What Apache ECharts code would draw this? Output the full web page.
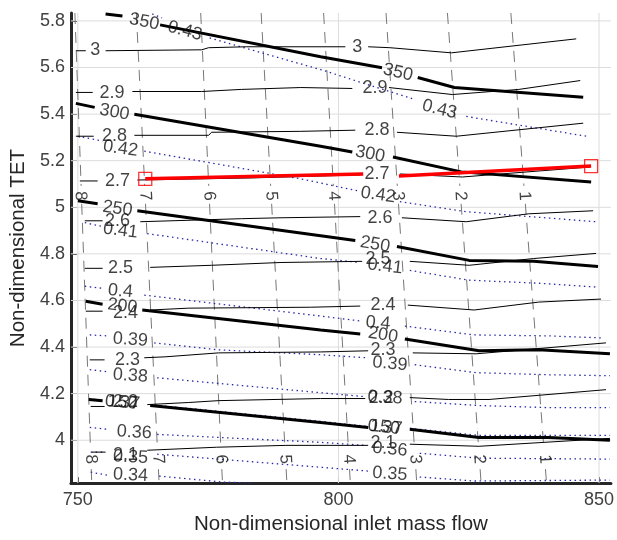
<!DOCTYPE html>
<html>
<head>
<meta charset="utf-8">
<script src="https://cdn.jsdelivr.net/npm/echarts@6/dist/echarts.min.js"></script>
<style>html,body{margin:0;padding:0;background:#fff}#c{width:617px;height:540px}</style>
</head>
<body>
<div id="c"></div>
<script>
const FONT = "'Liberation Sans', Arial, Helvetica, sans-serif";
const X_MIN = 748.67, X_MAX = 852.28, Y_MIN = 3.816, Y_MAX = 5.834;
const xTicks = [750, 800, 850];
const yTicks = [4, 4.2, 4.4, 4.6, 4.8, 5, 5.2, 5.4, 5.6, 5.8];

// thin contours (segments)
const thin3 = [[[749.62,5.672],[751.52,5.672]],[[755.32,5.672],[773.76,5.676],[775.09,5.685],[782.32,5.689],[801.33,5.689]],[[805.70,5.689],[809.88,5.685],[821.67,5.663],[845.62,5.723]]];
const thin29 = [[[749.62,5.493],[752.85,5.493]],[[760.46,5.497],[773.76,5.497],[781.37,5.506],[792.77,5.514],[802.66,5.510]],[[809.69,5.514],[821.86,5.484],[834.60,5.506],[846.39,5.544]]];
const thin28 = [[[749.62,5.305],[753.04,5.305]],[[760.84,5.309],[775.09,5.309],[775.66,5.322],[792.77,5.326],[803.23,5.331]],[[811.22,5.322],[822.62,5.305],[846.96,5.361]]];
const thin27 = [[[750.38,5.113],[753.80,5.113]],[[761.41,5.117],[783.27,5.126],[804.18,5.139]],[[811.79,5.143],[823.76,5.130],[848.29,5.173]]];
const thin26 = [[[751.33,4.942],[754.75,4.942]],[[761.98,4.938],[781.37,4.951],[788.97,4.955],[804.18,4.960]],[[812.17,4.955],[824.52,4.938],[836.50,4.972],[848.86,4.985]]];
const thin25 = [[[751.33,4.738],[754.75,4.738]],[[763.88,4.742],[775.66,4.751],[788.97,4.763],[804.56,4.768]],[[813.69,4.768],[825.09,4.751],[837.45,4.780],[849.43,4.802]]];
const thin24 = [[[751.52,4.554],[754.75,4.554]],[[763.88,4.559],[771.29,4.567],[794.68,4.571],[804.18,4.576]],[[813.31,4.580],[826.04,4.559],[838.40,4.593],[850.38,4.606]]];
const thin23 = [[[752.28,4.345],[755.13,4.345]],[[762.74,4.354],[766.73,4.358],[777.00,4.375],[796.58,4.379],[805.70,4.384]],[[814.26,4.375],[826.42,4.371],[851.33,4.418]]];
const thin22 = [[[752.47,4.145],[755.13,4.145]],[[763.31,4.153],[771.29,4.162],[777.00,4.170],[796.58,4.179],[805.13,4.179]],[[813.69,4.183],[821.10,4.175],[828.89,4.175],[851.33,4.217]]];
const thin21 = [[[752.66,3.949],[755.32,3.949]],[[763.31,3.957],[776.62,3.970],[789.92,3.978],[805.70,3.978]],[[813.69,3.983],[826.99,3.974],[852.09,4.008]]];
const thinLabels = [
  ['3',753.33,5.676,0],['3',803.61,5.687,0],
  ['2.9',756.56,5.491,0],['2.9',807.03,5.512,0],
  ['2.8',757.03,5.305,0],['2.8',807.41,5.331,0],
  ['2.7',757.60,5.113,0],['2.7',807.41,5.143,0],
  ['2.6',757.60,4.942,0],['2.6',807.98,4.955,0],
  ['2.5',758.17,4.738,0],['2.5',807.60,4.780,0],
  ['2.4',759.13,4.546,0],['2.4',808.55,4.580,0],
  ['2.3',759.51,4.345,0],['2.3',808.55,4.388,0],
  ['2.2',759.13,4.162,0],['2.2',808.17,4.183,0],
  ['2.1',759.13,3.936,0],['2.1',808.55,3.987,0]
];

// thick contours
const thick350 = [[[755.32,5.830],[758.55,5.821]],[[765.78,5.783],[796.58,5.646],[808.36,5.599]],[[815.21,5.557],[822.24,5.514],[846.96,5.472]]];
const thick300 = [[[749.62,5.446],[753.23,5.429]],[[760.84,5.399],[796.58,5.262],[802.66,5.237]],[[810.46,5.216],[823.57,5.152],[848.48,5.109]]];
const thick250 = [[[750.00,5.028],[753.80,5.015]],[[761.41,4.985],[796.58,4.878],[803.23,4.857]],[[811.22,4.832],[825.09,4.772],[837.45,4.768],[849.81,4.746]]];
const thick200 = [[[751.52,4.597],[754.75,4.584]],[[762.36,4.559],[796.58,4.473],[804.18,4.456]],[[812.74,4.435],[826.99,4.384],[838.40,4.388],[852.09,4.371]]];
const thick150 = [[[752.09,4.175],[754.75,4.170]],[[763.88,4.149],[796.58,4.076],[805.70,4.055]],[[813.69,4.047],[826.99,4.012],[840.30,4.012],[852.09,4.000]]];
const thickLabels = [
  ['350',762.74,5.796,-11],['350',811.41,5.578,-13],
  ['300',757.03,5.408,-10],['300',806.08,5.228,-11],
  ['250',757.60,4.994,-8],['250',807.03,4.840,-10],
  ['200',758.55,4.576,-7],['200',808.55,4.452,-9],
  ['150',758.55,4.162,-5],['150',808.94,4.055,-6]
];

// dotted contours
const dot43 = [[[764.26,5.830],[766.16,5.813]],[[775.28,5.727],[796.58,5.591],[814.64,5.463]],[[824.52,5.390],[847.53,5.305]]];
const dot42 = [[[750.00,5.305],[754.75,5.284]],[[762.74,5.241],[792.77,5.122],[803.61,5.071]],[[811.79,5.024],[824.52,4.981],[849.43,4.938]]];
const dot41 = [[[751.33,4.934],[754.75,4.917]],[[763.31,4.887],[796.58,4.780],[804.18,4.763]],[[813.69,4.729],[825.09,4.687],[838.40,4.674],[849.81,4.657]]];
const dot40 = [[[751.33,4.661],[754.75,4.652]],[[762.74,4.623],[796.58,4.533],[804.18,4.512]],[[812.74,4.490],[826.04,4.452],[840.30,4.448],[850.76,4.439]]];
const dot39 = [[[752.28,4.452],[755.70,4.448]],[[764.64,4.418],[777.00,4.388],[796.58,4.367],[805.32,4.354]],[[814.64,4.324],[826.42,4.290],[840.30,4.281],[852.09,4.277]]];
const dot38 = [[[752.28,4.303],[755.70,4.294]],[[765.21,4.268],[796.58,4.204],[805.13,4.187]],[[814.64,4.166],[826.99,4.149],[840.30,4.140],[852.09,4.140]]];
const dot37 = [[[752.09,4.179],[754.75,4.170]],[[763.88,4.153],[796.58,4.081],[805.70,4.059]],[[813.69,4.051],[826.99,4.021],[852.09,4.021]]];
const dot36 = [[[752.28,4.055],[755.70,4.047]],[[765.21,4.025],[796.58,3.991],[805.13,3.978]],[[815.59,3.944],[826.99,3.923],[852.09,3.919]]];
const dot35 = [[[752.47,3.949],[755.32,3.949]],[[765.21,3.940],[796.58,3.884],[806.08,3.867]],[[815.59,3.842],[826.04,3.825],[852.09,3.829]]];
const dot34 = [[[752.47,3.863],[755.70,3.850]],[[765.59,3.846],[777.57,3.821],[783.27,3.816]]];
const dotLabels = [
  ['0.43',770.53,5.757,-15],['0.43',819.39,5.420,-14],
  ['0.42',758.17,5.252,-8],['0.42',807.60,5.053,-8],
  ['0.41',758.17,4.900,-7],['0.41',808.94,4.746,-7],
  ['0.4',758.17,4.640,-5],['0.4',807.60,4.503,-5],
  ['0.39',760.08,4.431,-4],['0.39',809.88,4.328,-5],
  ['0.38',760.08,4.277,-4],['0.38',808.94,4.183,-3],
  ['0.37',758.55,4.162,-5],['0.37',808.94,4.055,-5],
  ['0.36',760.84,4.034,-3],['0.36',809.88,3.961,-5],
  ['0.35',760.08,3.927,-3],['0.35',809.88,3.855,-4],
  ['0.34',760.08,3.850,-3]
];

// dashed near-vertical contours
const dash8 = [[[749.43,5.834],[750.63,5.092]],[[750.74,5.015],[752.43,3.961]],[[752.57,3.876],[752.66,3.816]]];
const dash7 = [[[761.22,5.834],[762.83,5.092]],[[762.98,5.015],[765.27,3.961]],[[765.46,3.876],[765.59,3.816]]];
const dash6 = [[[773.57,5.834],[775.11,5.092]],[[775.27,5.015],[777.45,3.961]],[[777.62,3.876],[777.76,3.816]]];
const dash5 = [[[785.17,5.834],[786.99,5.092]],[[787.18,5.015],[789.75,3.961]],[[789.96,3.876],[790.11,3.816]]];
const dash4 = [[[797.15,5.834],[799.03,5.092]],[[799.24,5.015],[801.92,3.961]],[[802.13,3.876],[802.28,3.816]]];
const dash3 = [[[809.13,5.834],[811.29,5.092]],[[811.52,5.015],[814.60,3.961]],[[814.85,3.876],[815.02,3.816]]];
const dash2 = [[[820.91,5.834],[823.29,5.092]],[[823.54,5.015],[826.92,3.961]],[[827.18,3.876],[827.37,3.816]]];
const dash1 = [[[833.08,5.834],[835.59,5.092]],[[835.86,5.015],[839.43,3.961]],[[839.72,3.876],[839.92,3.816]]];
const dashLabels = [
  ['8',750.5,5.049,-87],['7',762.9,5.049,-87],['6',775.2,5.049,-87],['5',787.1,5.049,-87],
  ['4',799.1,5.049,-87],['3',811.4,5.049,-87],['2',823.4,5.049,-87],['1',835.7,5.049,-87],
  ['8',752.5,3.919,-87],['7',765.4,3.919,-87],['6',777.5,3.919,-87],['5',789.8,3.919,-87],
  ['4',802.0,3.919,-87],['3',814.7,3.919,-87],['2',827.0,3.919,-87],['1',839.6,3.919,-87]
];

// red operating line
const redLine = [[[762.93,5.122],[804.75,5.143]],[[811.60,5.134],[848.48,5.177]]];
const redEnds = [[762.93,5.122],[848.48,5.177]];

const series = [];
function addSegs(segs, lineStyle, z) {
  segs.forEach(s => series.push({type:'line', data:s, symbol:'none', showSymbol:false,
    lineStyle:lineStyle, z:z, silent:true, animation:false}));
}
function addLabels(items, z, fontSize) {
  series.push({type:'scatter', symbolSize:1, itemStyle:{color:'rgba(0,0,0,0)'}, z:z, silent:true, animation:false,
    label:{show:true, position:'inside', formatter:'{b}', fontSize:fontSize, color:'#111', fontFamily:FONT},
    data: items.map(it => ({name:it[0], value:[it[1], it[2]], label:{rotate:it[3]}}))});
}

// gridlines from tick arrays
xTicks.forEach(x => addSegs([[[x, Y_MIN],[x, Y_MAX]]], {color:'#dcdcdc', width:1}, 1));
yTicks.forEach(y => addSegs([[[X_MIN, y],[X_MAX, y]]], {color:'#dcdcdc', width:1}, 1));

const dashStyle = {color:'#777', width:1, type:[11,8]};
[dash8,dash7,dash6,dash5,dash4,dash3,dash2,dash1].forEach(d => addSegs(d, dashStyle, 2));
const dotStyle = {color:'#2a2aa8', width:1.3, type:[1.5,3.5]};
[dot43,dot42,dot41,dot40,dot39,dot38,dot37,dot36,dot35,dot34].forEach(d => addSegs(d, dotStyle, 3));
const thinStyle = {color:'#000', width:1};
[thin3,thin29,thin28,thin27,thin26,thin25,thin24,thin23,thin22,thin21].forEach(d => addSegs(d, thinStyle, 4));
const thickStyle = {color:'#000', width:3};
[thick350,thick300,thick250,thick200,thick150].forEach(d => addSegs(d, thickStyle, 5));
addSegs(redLine, {color:'#ff0000', width:3.5}, 6);
series.push({type:'scatter', data:redEnds, symbol:'rect', symbolSize:13, z:7, silent:true, animation:false,
  itemStyle:{color:'rgba(0,0,0,0)', borderColor:'#ff0000', borderWidth:1.3}});

addLabels(dashLabels, 8, 17);
addLabels(dotLabels, 8, 18);
addLabels(thinLabels, 8, 18);
addLabels(thickLabels, 8, 18);

const chart = echarts.init(document.getElementById('c'), null, {renderer:'canvas'});
chart.setOption({
  animation:false,
  backgroundColor:'#fff',
  grid:{left:68, right:4, top:13, bottom:54, containLabel:false},
  xAxis:{type:'value', min:X_MIN, max:X_MAX,
    name:'Non-dimensional inlet mass flow', nameLocation:'middle', nameGap:27,
    nameTextStyle:{fontSize:20.5, color:'#262626', fontFamily:FONT},
    axisLine:{show:true, onZero:false, lineStyle:{color:'#262626', width:3}},
    axisTick:{show:true, inside:true, length:6, customValues:xTicks, lineStyle:{color:'#262626', width:1}},
    axisLabel:{customValues:xTicks, fontSize:18, color:'#404040', margin:8, fontFamily:FONT},
    splitLine:{show:false}},
  yAxis:{type:'value', min:Y_MIN, max:Y_MAX,
    name:'Non-dimensional TET', nameLocation:'middle', nameGap:38, nameRotate:90,
    nameTextStyle:{fontSize:20.5, color:'#262626', fontFamily:FONT},
    axisLine:{show:true, onZero:false, lineStyle:{color:'#262626', width:3}},
    axisTick:{show:true, inside:true, length:6, customValues:yTicks, lineStyle:{color:'#262626', width:1}},
    axisLabel:{customValues:yTicks, fontSize:18, color:'#404040', margin:6, fontFamily:FONT,
      formatter: v => String(Math.round(v*10)/10)},
    splitLine:{show:false}},
  series: series
});
</script>
</body>
</html>
